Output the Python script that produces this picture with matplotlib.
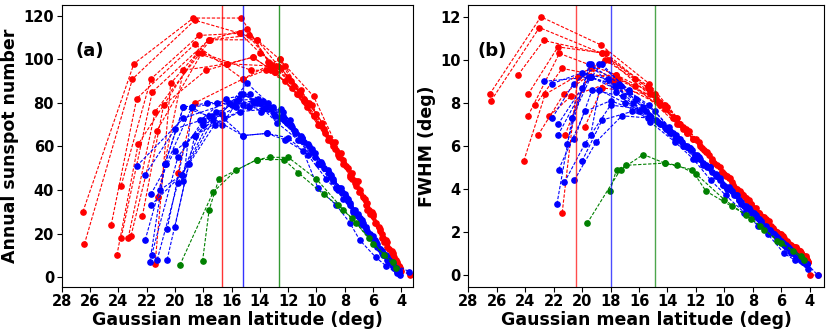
import numpy as np
import matplotlib
matplotlib.use('Agg')
import matplotlib.pyplot as plt

plt.rcParams['font.family'] = ['DejaVu Sans']
plt.rcParams['font.weight'] = 'bold'

# 强周期 (red): 纬度, 太阳黑子数, FWHM
red_lat = [
    [26.5, 22.9, 18.7, 15.3, 13.3, 11.8, 10.3, 8.9, 7.6, 6.4, 5.4, 4.6, 4.1],
    [26.4, 23.0, 18.6, 15.4, 14.0, 12.5, 10.9, 9.5, 8.1, 6.9, 5.8, 4.9, 4.3, 4.0, 3.4],
    [24.5, 22.7, 18.6, 15.2, 13.6, 12.2, 10.7, 9.2, 7.9, 6.7, 5.6, 4.7, 4.2],
    [24.1, 22.6, 18.4, 16.3, 14.5, 12.9, 11.3, 9.8, 8.5, 7.2, 6.1, 5.1, 4.4],
    [23.8, 21.7, 18.3, 15.4, 14.2, 12.7, 11.1, 9.6, 8.3, 7.1, 6.0, 5.0, 4.3],
    [23.8, 21.6, 17.6, 14.9, 13.4, 12.0, 10.5, 9.1, 7.8, 6.6, 5.5, 4.6, 4.1],
    [23.3, 21.4, 17.5, 14.8, 13.1, 11.6, 10.0, 8.7, 7.5, 6.3, 5.3, 4.5],
    [23.1, 21.3, 18.1, 14.6, 13.2, 11.7, 10.2, 8.8, 7.6, 6.5, 5.5, 4.7, 4.2],
    [22.3, 20.8, 17.8, 14.5, 12.9, 11.4, 9.9, 8.5, 7.3, 6.2, 5.2, 4.5],
    [21.4, 20.3, 17.6, 14.2, 12.6, 11.2, 9.7, 8.4, 7.2, 6.0, 5.1, 4.4],
    [21.2, 19.4, 16.3, 13.3, 12.2, 10.9, 9.4, 8.1, 7.0, 5.9, 5.0, 4.3],
    [19.8, 18.6, 15.2, 12.6, 10.2, 8.7, 7.5, 6.4, 5.4, 4.6, 4.1],
]
red_ssn = [
    [30, 98, 119, 119, 98, 90, 79, 62, 47, 31, 18, 9, 3],
    [15, 91, 118, 112, 103, 96, 82, 68, 54, 40, 25, 13, 6, 3, 1],
    [24, 82, 107, 91, 95, 90, 78, 63, 51, 37, 23, 12, 5],
    [10, 61, 103, 98, 101, 94, 84, 70, 57, 44, 30, 17, 8],
    [42, 91, 111, 112, 109, 97, 86, 71, 57, 44, 29, 16, 7],
    [18, 85, 109, 114, 99, 92, 80, 64, 50, 36, 22, 11, 4],
    [18, 76, 109, 111, 97, 88, 75, 59, 45, 31, 18, 9],
    [19, 67, 103, 95, 95, 87, 74, 60, 46, 33, 21, 11, 5],
    [28, 79, 95, 101, 94, 84, 70, 56, 43, 29, 16, 8],
    [6, 89, 109, 109, 100, 84, 70, 55, 42, 28, 16, 7],
    [37, 95, 98, 97, 97, 81, 66, 52, 39, 25, 14, 6],
    [48, 80, 91, 100, 83, 62, 48, 34, 20, 10, 4],
]
red_fwhm = [
    [8.4, 12.0, 10.7, 8.9, 7.3, 6.2, 5.0, 3.9, 2.9, 2.0, 1.4, 1.0, 0.6],
    [8.1, 11.5, 10.3, 8.8, 7.8, 6.7, 5.4, 4.3, 3.3, 2.5, 1.7, 1.2, 0.9, 0.0, 0.0],
    [9.3, 10.9, 10.3, 8.6, 7.3, 6.3, 5.2, 4.0, 3.1, 2.3, 1.6, 1.1, 0.7],
    [5.3, 8.4, 10.0, 9.1, 8.0, 6.9, 5.7, 4.6, 3.6, 2.7, 1.9, 1.3, 0.9],
    [8.4, 10.6, 10.3, 8.7, 7.9, 6.8, 5.6, 4.5, 3.5, 2.6, 1.9, 1.3, 0.8],
    [7.4, 10.3, 9.3, 8.4, 7.3, 6.3, 5.1, 4.0, 3.1, 2.2, 1.5, 1.0, 0.6],
    [7.9, 9.6, 9.1, 8.2, 7.0, 5.9, 4.7, 3.7, 2.8, 2.0, 1.4, 0.9],
    [6.5, 8.4, 10.0, 8.0, 7.0, 6.0, 4.8, 3.8, 2.9, 2.1, 1.5, 1.1, 0.7],
    [7.4, 8.3, 9.0, 7.9, 6.8, 5.8, 4.6, 3.6, 2.7, 1.9, 1.3, 0.9],
    [2.9, 9.2, 9.3, 7.7, 6.6, 5.7, 4.5, 3.5, 2.6, 1.8, 1.3, 0.8],
    [6.5, 9.6, 8.8, 7.0, 6.3, 5.3, 4.2, 3.3, 2.5, 1.8, 1.2, 0.8],
    [6.9, 8.7, 8.4, 6.6, 4.8, 3.7, 2.8, 2.0, 1.4, 1.0, 0.6],
]

# 中等周期 (blue)
blue_lat = [
    [22.7, 19.4, 16.2, 14.4, 12.9, 11.5, 10.1, 8.8, 7.6, 6.5, 5.5, 4.7, 4.2],
    [22.1, 20.6, 18.8, 16.7, 15.2, 13.6, 12.1, 10.6, 9.2, 8.0, 6.9, 5.9, 5.0, 4.4],
    [21.7, 20.0, 18.6, 16.7, 14.9, 13.4, 11.9, 10.5, 9.1, 7.9, 6.8, 5.8, 4.9, 4.3],
    [21.7, 19.5, 17.3, 15.3, 13.9, 12.4, 11.0, 9.6, 8.3, 7.1, 6.0, 5.1, 4.4],
    [21.65, 19.8, 18.0, 16.0, 14.5, 13.0, 11.5, 10.1, 8.8, 7.6, 6.5, 5.5, 4.7, 4.2],
    [21.77, 20.7, 19.4, 17.7, 15.7, 14.1, 12.6, 11.2, 9.8, 8.5, 7.3, 6.2, 5.3, 4.5],
    [21.25, 19.8, 18.0, 15.7, 14.2, 12.8, 11.3, 9.9, 8.6, 7.4, 6.3, 5.4, 4.6],
    [20.55, 19.0, 17.2, 15.4, 13.8, 12.3, 10.9, 9.5, 8.2, 7.1, 6.1, 5.2, 4.5],
    [20.0, 18.6, 16.5, 14.8, 13.2, 11.8, 10.3, 9.0, 7.8, 6.7, 5.7, 4.8, 4.2],
    [20.55, 19.3, 17.1, 15.2, 13.5, 12.0, 10.6, 9.3, 8.1, 6.9, 5.9, 5.0, 4.3],
    [20.7, 19.4, 17.6, 15.2, 13.5, 12.2, 10.95, 9.9, 8.6, 7.65, 6.95, 5.8, 5.06, 4.1],
    [21.06, 19.5, 17.4, 15.5, 13.9, 12.5, 11.1, 9.7, 8.4, 7.3, 6.2, 5.3, 4.6],
    [19.4, 18.8, 17.0, 15.2, 13.8, 12.4, 11.0, 9.7, 8.5, 7.4, 6.4, 5.4, 4.6, 3.45],
    [22.1, 20.0, 18.2, 16.4, 14.7, 13.1, 11.7, 10.3, 9.0, 7.8, 6.7, 5.7, 4.9, 4.3],
]
blue_ssn = [
    [51, 73, 80, 80, 74, 66, 57, 45, 34, 23, 13, 6, 3],
    [17, 52, 78, 70, 84, 78, 71, 61, 49, 38, 27, 17, 9, 4],
    [38, 58, 65, 75, 89, 80, 72, 60, 48, 37, 26, 16, 8, 3],
    [33, 47, 72, 84, 80, 76, 64, 52, 41, 29, 19, 10, 4],
    [10, 55, 72, 79, 81, 75, 67, 55, 44, 33, 22, 13, 6, 2],
    [7, 52, 78, 80, 81, 82, 73, 63, 52, 40, 29, 19, 10, 4],
    [8, 43, 70, 78, 80, 71, 63, 52, 41, 30, 20, 11, 5],
    [8, 52, 70, 76, 77, 72, 62, 50, 39, 28, 18, 10, 4],
    [23, 65, 73, 78, 77, 70, 59, 47, 36, 25, 15, 7, 3],
    [22, 61, 76, 65, 66, 64, 56, 45, 36, 25, 15, 8, 2],
    [52, 78, 74, 65, 66, 63, 58, 41, 33, 25, 17, 9, 5, 1],
    [40, 47, 74, 82, 76, 77, 65, 53, 41, 31, 20, 11, 5],
    [44, 78, 80, 79, 81, 74, 64, 52, 41, 31, 21, 12, 6, 2.5],
    [47, 68, 72, 82, 84, 78, 69, 58, 46, 35, 24, 14, 7, 3],
]
blue_fwhm = [
    [9.0, 9.2, 8.2, 7.0, 6.0, 5.1, 4.2, 3.4, 2.6, 1.9, 1.3, 0.8, 0.5],
    [7.3, 8.9, 9.8, 8.6, 7.4, 6.6, 5.6, 4.7, 3.7, 2.9, 2.1, 1.5, 0.9, 0.6],
    [7.0, 8.7, 9.8, 8.5, 7.6, 6.5, 5.6, 4.6, 3.7, 2.9, 2.1, 1.4, 0.9, 0.5],
    [6.5, 9.2, 8.8, 7.9, 6.9, 5.9, 5.0, 4.0, 3.1, 2.3, 1.6, 1.0, 0.6],
    [4.9, 7.6, 8.1, 7.6, 7.0, 6.2, 5.2, 4.2, 3.3, 2.6, 1.9, 1.3, 0.8, 0.5],
    [3.3, 7.3, 9.2, 8.8, 7.8, 6.8, 6.0, 5.0, 4.0, 3.1, 2.3, 1.6, 1.0, 0.6],
    [4.3, 6.1, 7.9, 7.7, 6.9, 6.0, 5.1, 4.1, 3.2, 2.4, 1.7, 1.1, 0.7],
    [4.4, 6.2, 7.4, 7.3, 6.6, 5.8, 4.8, 3.9, 3.0, 2.2, 1.6, 1.0, 0.6],
    [5.3, 7.2, 7.6, 7.2, 6.3, 5.5, 4.5, 3.5, 2.8, 2.0, 1.4, 0.8, 0.5],
    [6.3, 8.6, 8.3, 7.3, 6.3, 5.4, 4.6, 3.7, 2.9, 2.1, 1.5, 0.9, 0.5],
    [7.3, 9.8, 8.5, 7.1, 6.2, 5.4, 4.4, 3.7, 2.9, 2.3, 1.9, 1.0, 0.7, 0.3],
    [6.1, 9.8, 8.9, 7.6, 6.7, 5.9, 5.0, 4.0, 3.1, 2.3, 1.7, 1.1, 0.7],
    [6.5, 8.6, 8.0, 7.4, 6.7, 5.9, 5.0, 4.1, 3.2, 2.5, 1.8, 1.2, 0.8, 0.0],
    [8.9, 9.4, 9.1, 8.0, 7.1, 6.3, 5.4, 4.4, 3.5, 2.7, 2.0, 1.3, 0.8, 0.5],
]

# 弱周期 (green)
green_lat = [
    [19.65, 17.3, 15.7, 14.2, 13.3, 12.0, 10.0, 8.1, 7.2, 6.0, 4.6],
    [18.05, 17.58, 16.9, 14.2, 12.3, 11.3, 9.5, 8.5, 7.5, 6.3, 5.2, 4.4],
]
green_ssn = [
    [5.5, 39, 49, 54, 55, 55, 45, 31, 25, 15, 7],
    [7.3, 31, 45, 54, 54, 48, 38, 33, 27, 18, 10, 4],
]
green_fwhm = [
    [2.4, 4.9, 5.6, 5.2, 5.1, 4.7, 3.5, 2.6, 2.1, 1.5, 0.9],
    [3.9, 4.9, 5.1, 5.2, 4.9, 3.9, 3.2, 2.8, 2.3, 1.6, 1.1, 0.7],
]

# 竖线位置 (各组平均纬度)
vline_a = {'r': 16.67, 'b': 15.18, 'g': 12.66}
vline_b = {'r': 20.42, 'b': 17.94, 'g': 14.86}

fig = plt.figure(figsize=(8.3, 3.32), dpi=100)
ax1 = fig.add_axes([0.0743, 0.136, 0.423, 0.849])
ax2 = fig.add_axes([0.5642, 0.136, 0.4286, 0.849])


def draw_group(ax, lats, vals, color):
    for x, y in zip(lats, vals):
        ax.plot(x, y, '--o', color=color, lw=0.8, ms=3.8, dashes=(3, 1.5))


draw_group(ax1, red_lat, red_ssn, 'r')
draw_group(ax1, blue_lat, blue_ssn, 'b')
draw_group(ax1, green_lat, green_ssn, 'g')
draw_group(ax2, red_lat, red_fwhm, 'r')
draw_group(ax2, blue_lat, blue_fwhm, 'b')
draw_group(ax2, green_lat, green_fwhm, 'g')

for c in ['r', 'b', 'g']:
    ax1.axvline(vline_a[c], color=c, lw=1.0, alpha=0.8)
    ax2.axvline(vline_b[c], color=c, lw=1.0, alpha=0.7)

xticks = np.arange(28, 3, -2)
for ax in [ax1, ax2]:
    ax.set_xticks(xticks)
    ax.tick_params(labelsize=10.5, pad=2)
    for lab in ax.get_xticklabels() + ax.get_yticklabels():
        lab.set_fontweight('bold')
    ax.set_xlabel('Gaussian mean latitude (deg)', fontsize=12.5, fontweight='bold', labelpad=1)

ax1.set_xlim(28, 3.2)
ax1.set_ylim(-4.5, 125)
ax1.set_yticks(np.arange(0, 121, 20))
ax1.set_ylabel('Annual sunspot number', fontsize=12.5, fontweight='bold', labelpad=3)
ax1.text(0.04, 0.82, '(a)', transform=ax1.transAxes, fontsize=13, fontweight='bold')

ax2.set_xlim(28, 3.0)
ax2.set_ylim(-0.55, 12.55)
ax2.set_yticks(np.arange(0, 13, 2))
ax2.set_ylabel('FWHM (deg)', fontsize=12.5, fontweight='bold', labelpad=3)
ax2.text(0.025, 0.82, '(b)', transform=ax2.transAxes, fontsize=13, fontweight='bold')

plt.savefig('out.png', dpi=100)
